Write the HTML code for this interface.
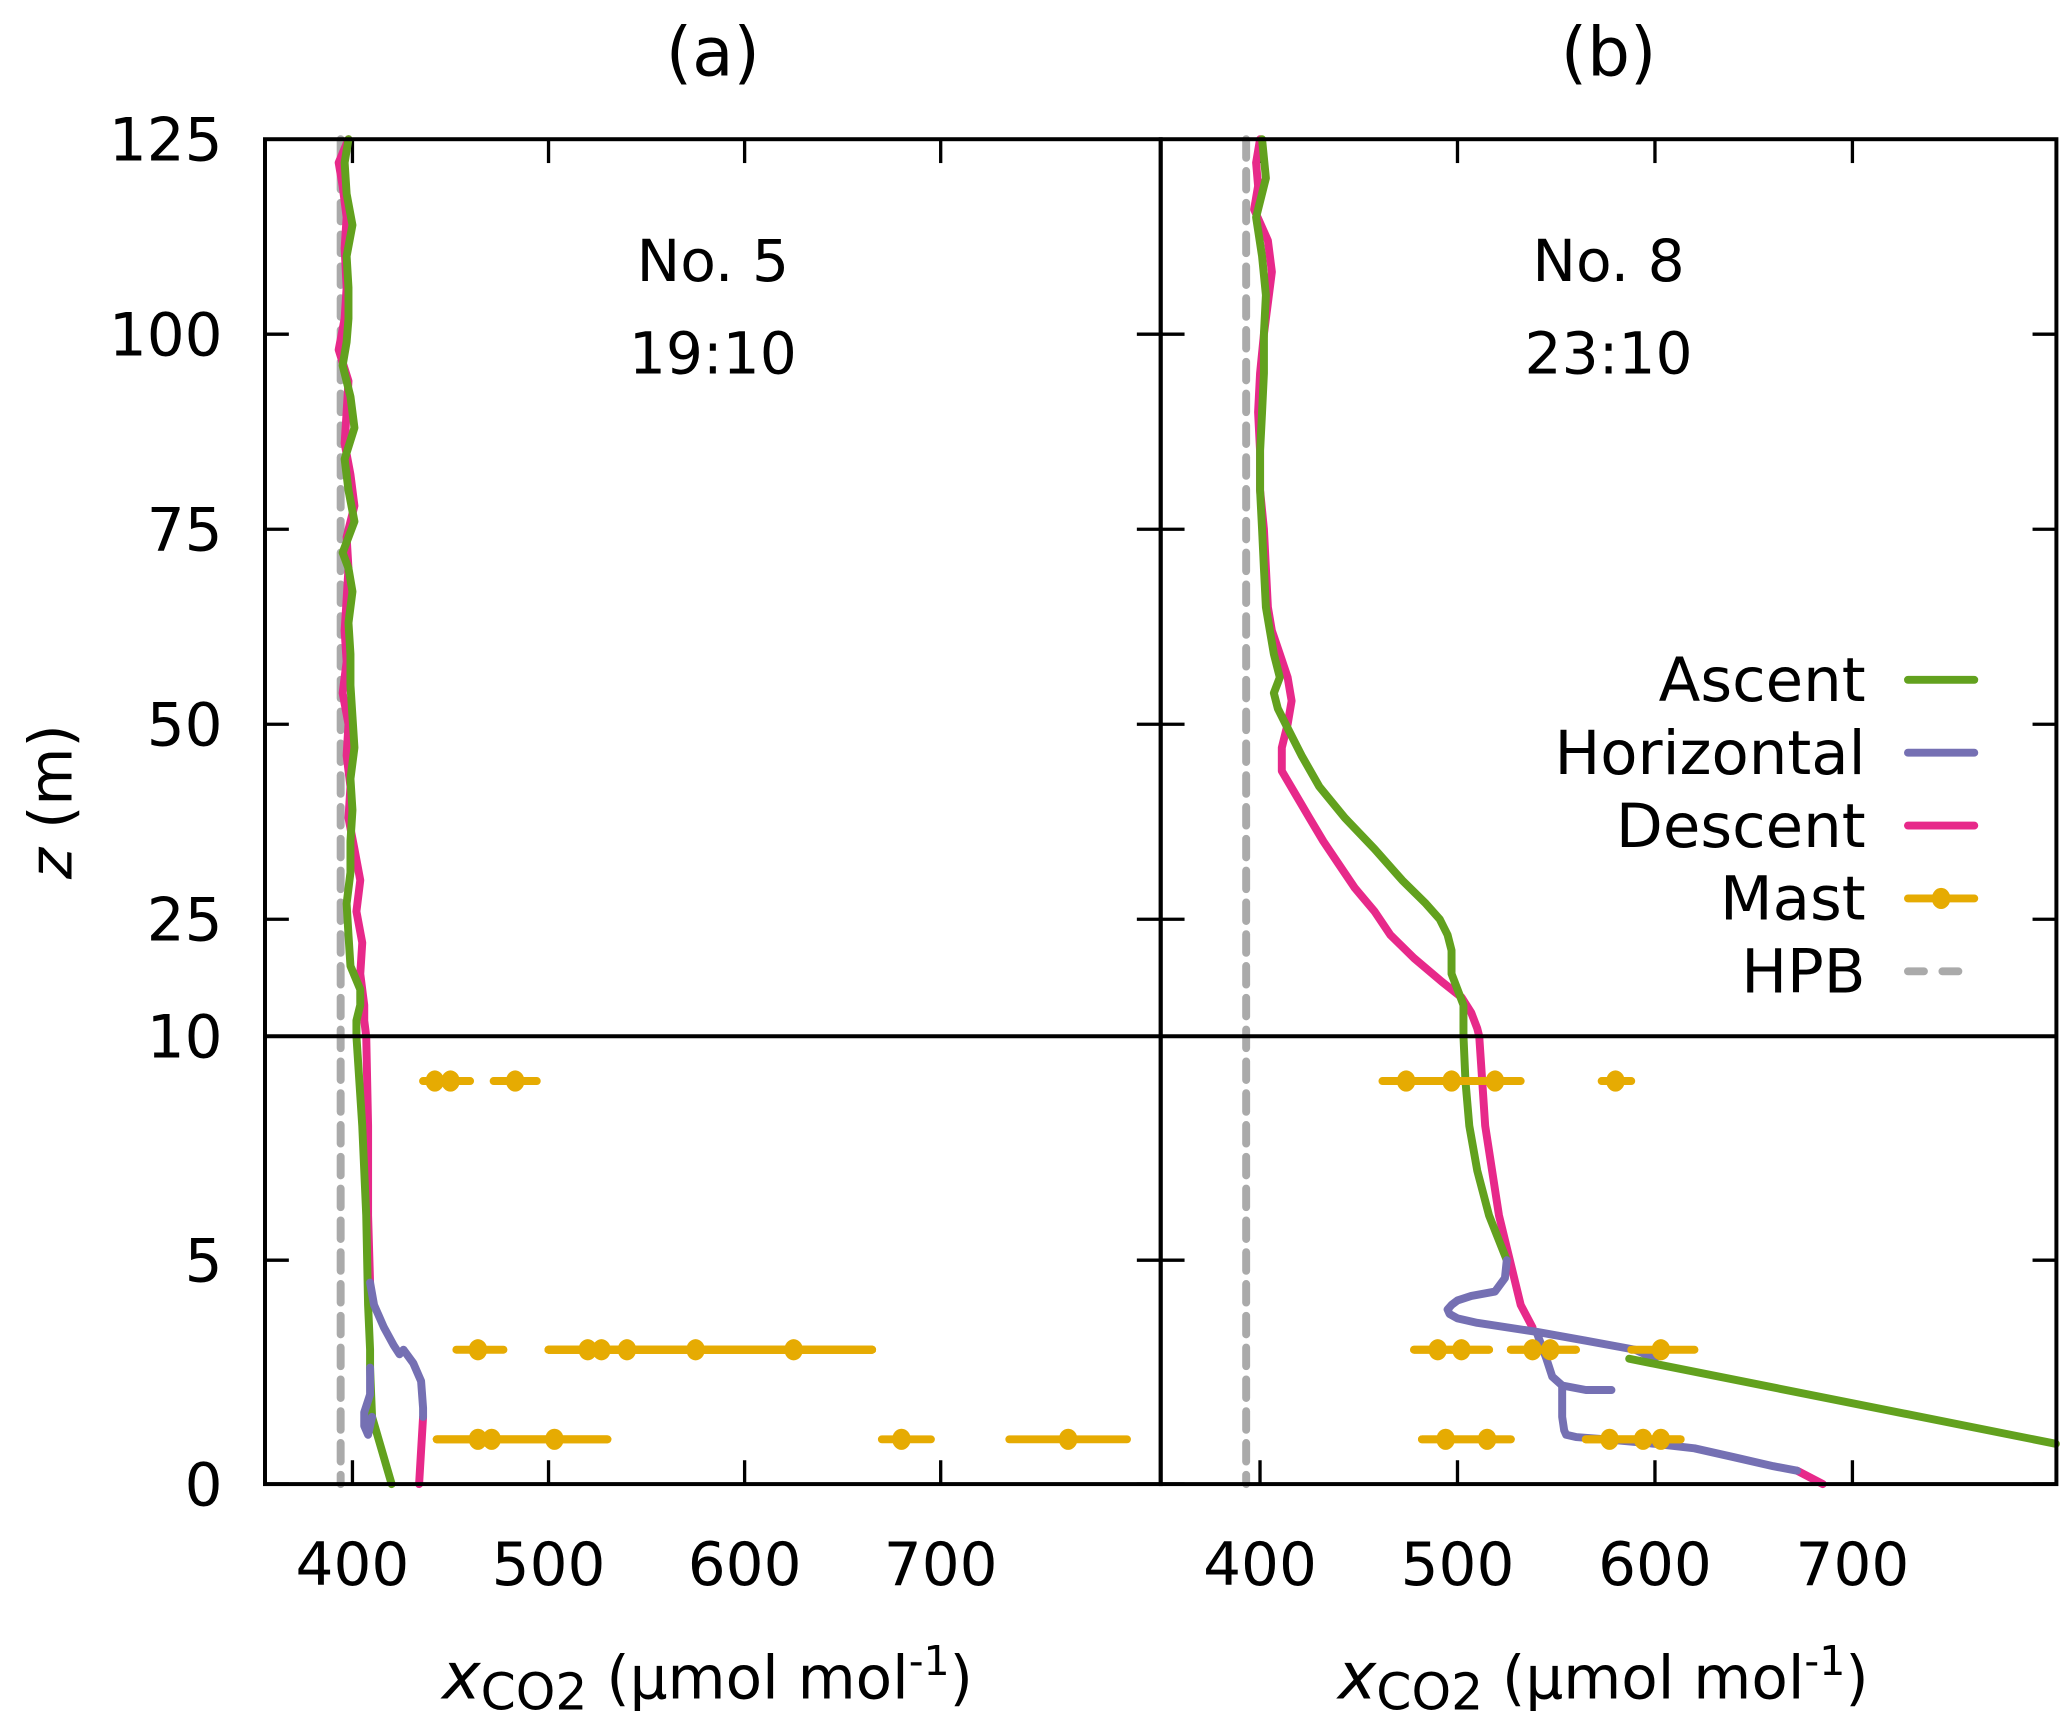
<!DOCTYPE html>
<html><head><meta charset="utf-8">
<style>
html,body{margin:0;padding:0;background:#fff;}
svg{display:block;font-family:"DejaVu Sans","Liberation Sans",sans-serif;}
</style></head>
<body>
<svg id="chart" width="2067" height="1724" viewBox="0 0 1560 1301" xmlns="http://www.w3.org/2000/svg">
</svg>
<script>
// ---- data ----
const zTicksUpper = [10, 25, 50, 75, 100, 125];
const zTicksLower = [0, 5];
const xTicks = [400, 500, 600, 700];
const panelTitles = ["(a)", "(b)"];
const panelLabels1 = ["No. 5", "No. 8"];
const panelLabels2 = ["19:10", "23:10"];
const hpbA = 394;
const hpbB = 393;

// Panel a
const aAscZ = [125,122,118,114,110,106,102,99,96,92,88,84,80,76,72,70,67,63,59,55,51,47,43,39,35,31,27,23,19,16,14,12,10,8,6,4,3,2.6,1.5,0];
const aAscX = [398,396,397,400,397,398,398,397,395,399,401,396,398,401,395,398,400,398,399,399,400,401,399,400,399,399,397,398,399,404,404,402,402,405,407,408,409,409,410,420];
const aDesZ = [125,122,119,115,111,106,102,98,94,90,86,82,78,74,70,66,62,58,54,50,46,42,38,34,30,26,22,18,14,12,10,8,6,4.5];
const aDesX = [398,393,395,397,396,397,396,393,398,397,396,399,401,397,398,397,396,397,395,398,397,399,398,401,404,402,405,404,406,406,407,408,408,409];
const aHorZ = [4.5,4.0,3.5,3.1,2.9,3.0,2.7,2.3,1.7,1.5];
const aHorX = [409,411,416,421,424,426,431,435,436,436];
const aHor2Z = [2.6,2.0,1.6,1.3,1.1,1.3,1.5];
const aHor2X = [409,409,406,406,408,409,410];
const aDes2Z = [1.5,0];
const aDes2X = [436,434];
const aMastZ = [9,9,9,3,3,3,3,3,3,1,1,1,1,1];
const aMastX = [442,450,483,464,520,527,540,575,625,464,471,503,680,765];
const aMastLo = [436,445,472,453,500,500,500,500,500,443,443,443,670,735];
const aMastHi = [455,460,494,477,665,665,665,665,665,530,530,530,695,795];

// Panel b
const bAscZ = [125,120,115,110,105,100,95,90,85,80,75,70,65,62,59,56,54,52,50,46,42,38,34,30,27,25,23,21,20,19,18,16,14,12,10,9,8,7,6,5];
const bAscX = [401,403,398,401,403,402,402,401,400,400,401,402,403,405,407,410,407,409,413,421,430,443,458,472,484,491,495,497,497,497,497,500,503,503,503,504,506,510,516,525];
const bAsc2Z = [2.8,0.9];
const bAsc2X = [587,803];
const bDesZ = [125,122,119,116,112,108,104,100,95,90,85,80,75,70,65,62,59,56,53,50,47,44,41,38,35,32,29,26,23,20,17,15,13,11,10,8,6,4,3.5];
const bDesX = [400,398,399,397,404,406,404,402,400,399,400,400,402,403,404,406,410,414,416,414,411,411,418,425,432,440,448,458,466,478,492,502,507,510,511,514,521,532,538];
const bHorZ = [5,4.6,4.3,4.2,4.1,4.0,3.9,3.8,3.7,3.6,3.4,3.2,3.0,2.8];
const bHorX = [525,524,519,507,500,497,495,496,500,510,540,565,590,600];
const bHor2Z = [3.4,2.8,2.4,2.2,2.1,2.1];
const bHor2X = [540,545,548,553,565,578];
const bHor3Z = [2.2,1.8,1.5,1.2,1.1,1.05,1.0,0.9,0.8,0.6,0.4,0.3];
const bHor3X = [553,553,553,554,555,560,575,600,620,640,660,672];
const bDes2Z = [0.3,0];
const bDes2X = [672,685];
const bMastZ = [9,9,9,9,3,3,3,3,3,1,1,1,1,1];
const bMastX = [474,497,519,580,490,502,538,547,603,494,515,577,594,603];
const bMastLo = [462,482,500,573,478,478,527,527,588,482,482,565,565,565];
const bMastHi = [486,510,532,588,516,516,560,560,620,527,527,613,613,613];

// ---- layout ----
const NS = "http://www.w3.org/2000/svg";
const svg = document.getElementById("chart");
const TOP = 105, BREAK = 782, BOT = 1120;
const panels = [
  {L:200, R:876, x0:355.4, x1:812.2},
  {L:876, R:1552, x0:349.7, x1:803.3}
];
function yScale(z){
  if (z >= 10) return BREAK - (z-10)/115*(BREAK-TOP);
  return BOT - z/10*(BOT-BREAK);
}
function xScale(p, x){ return p.L + (x-p.x0)/(p.x1-p.x0)*(p.R-p.L); }
function mk(tag, attrs, parent){
  const e = document.createElementNS(NS, tag);
  for (const k in attrs) e.setAttribute(k, attrs[k]);
  (parent||svg).appendChild(e);
  return e;
}
function txt(s, x, y, size, anchor, name){
  const t = mk("text", {x:x, y:y, "font-size":size, "text-anchor":anchor||"middle", fill:"#000"});
  t.textContent = s;
  
  
  return t;
}
function line(p, xs, zs, color, name, dash){
  const pts = xs.map((x,i)=>xScale(p,x).toFixed(1)+","+yScale(zs[i]).toFixed(1)).join(" ");
  const a = {points:pts, fill:"none", stroke:color, "stroke-width":6, "stroke-linejoin":"round", "stroke-linecap":"round"};
  if (dash) a["stroke-dasharray"] = dash;
  const e = mk("polyline", a);
  
  
  return e;
}
const GREEN="#62a11e", PURPLE="#7570b3", PINK="#e7298a", GOLD="#e6ab02", GREY="#aaaaaa";

panels.forEach((p, i)=>{
  zTicksUpper.concat(zTicksLower).forEach(z=>{
    const y = yScale(z);
    const t1 = mk("line",{x1:p.L,x2:p.L+18,y1:y,y2:y,stroke:"#000","stroke-width":2.5});
    
    
    const t2 = mk("line",{x1:p.R-18,x2:p.R,y1:y,y2:y,stroke:"#000","stroke-width":2.5});
    
    
    if (i===0) txt(String(z), 168, y+16, 45, "end", "y-tick-label");
  });
  xTicks.forEach(x=>{
    const xx = xScale(p,x);
    const a = mk("line",{x1:xx,x2:xx,y1:BOT,y2:BOT-18,stroke:"#000","stroke-width":2.5});
    
    
    const b = mk("line",{x1:xx,x2:xx,y1:TOP,y2:TOP+18,stroke:"#000","stroke-width":2.5});
    
    
    txt(String(x), xx, BOT+76, 45, "middle", "x-tick-label");
  });
  const mid = (p.L+p.R)/2;
  txt(panelTitles[i], mid, 57, 51, "middle", "panel-title");
  txt(panelLabels1[i], mid, 212, 44, "middle", "flight-number-label");
  txt(panelLabels2[i], mid, 282, 44, "middle", "flight-time-label");
  const xt = mk("text",{x:mid-4, y:1282, "font-size":45, "text-anchor":"middle", fill:"#000"});
  
  
  xt.innerHTML = '<tspan font-style="italic" font-size="49">x</tspan><tspan font-size="38" dy="8">CO2</tspan><tspan dy="-8"> (µmol mol</tspan><tspan font-size="31" dy="-18">-1</tspan><tspan dy="18">)</tspan>';
});

function mast(p, xs, zs, lo, hi){
  xs.forEach((x,i)=>{
    const y = yScale(zs[i]);
    const b = mk("line",{x1:xScale(p,lo[i]),x2:xScale(p,hi[i]),y1:y,y2:y,stroke:GOLD,"stroke-width":6,"stroke-linecap":"round"});
    
    
    const c = mk("ellipse",{cx:xScale(p,x),cy:y,rx:7,ry:8,fill:GOLD});
    
    
  });
}

const pa = panels[0], pb = panels[1];
line(pa,[hpbA,hpbA],[125,0],GREY,"hpb-line-a","14 10");
line(pa,aDesX,aDesZ,PINK,"descent-line-a");
line(pa,aDes2X,aDes2Z,PINK,"descent-line-a-bottom");
line(pa,aAscX,aAscZ,GREEN,"ascent-line-a");
line(pa,aHorX,aHorZ,PURPLE,"horizontal-line-a");
line(pa,aHor2X,aHor2Z,PURPLE,"horizontal-loop-a");
mast(pa,aMastX,aMastZ,aMastLo,aMastHi);

line(pb,[hpbB,hpbB],[125,0],GREY,"hpb-line-b","14 10");
line(pb,bDesX,bDesZ,PINK,"descent-line-b");
line(pb,bDes2X,bDes2Z,PINK,"descent-line-b-bottom");
line(pb,bAscX,bAscZ,GREEN,"ascent-line-b");
line(pb,bHorX,bHorZ,PURPLE,"horizontal-line-b");
line(pb,bHor2X,bHor2Z,PURPLE,"horizontal-branch-b");
line(pb,bHor3X,bHor3Z,PURPLE,"horizontal-lower-b");
line(pb,bAsc2X,bAsc2Z,GREEN,"ascent-line-b-bottom");
mast(pb,bMastX,bMastZ,bMastLo,bMastHi);

panels.forEach((p,i)=>{
  const r = mk("rect",{x:p.L,y:TOP,width:p.R-p.L,height:BOT-TOP,fill:"none",stroke:"#000","stroke-width":3});
  
  
});
const br = mk("line",{x1:200,x2:1552,y1:BREAK,y2:BREAK,stroke:"#000","stroke-width":3});



const yt = mk("text",{x:0,y:0,"font-size":45,"text-anchor":"middle",fill:"#000",transform:"translate(54,605) rotate(-90)"});


yt.innerHTML = '<tspan font-style="italic">z</tspan> (m)';

const legNames = ["Ascent","Horizontal","Descent","Mast","HPB"];
const legColors = [GREEN,PURPLE,PINK,GOLD,GREY];
const legY = [513,568,623,678,733];
legNames.forEach((n,i)=>{
  const g = mk("g",{});
  
  
  const t = mk("text",{x:1408,y:legY[i]+16,"font-size":46,"text-anchor":"end",fill:"#000"},g);
  t.textContent = n;
  const l = mk("line",{x1:1440,x2:1490,y1:legY[i],y2:legY[i],stroke:legColors[i],"stroke-width":6,"stroke-linecap":"round"},g);
  if (n==="HPB") l.setAttribute("stroke-dasharray","12 14");
  if (n==="Mast") mk("ellipse",{cx:1465,cy:legY[i],rx:7,ry:8,fill:GOLD},g);
});
</script>
</body></html>
